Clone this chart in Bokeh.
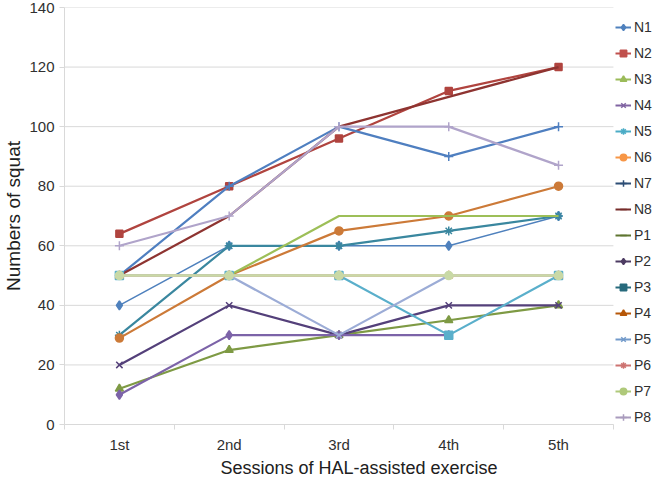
import math
from bokeh.plotting import figure
from bokeh.models import Range1d, FixedTicker, Legend, LegendItem, Title
from bokeh.embed import file_html
from bokeh.resources import INLINE

# ---------------- data ----------------
sessions = ["1st", "2nd", "3rd", "4th", "5th"]
y_ticks = [0, 20, 40, 60, 80, 100, 120, 140]

N1 = [40, 60, 60, 60, 70]
N2 = [64, 80, 96, 112, 120]
N3 = [12, 25, 30, 35, 40]
N4 = [20, 40, 30, 40, 40]
N5 = [30, 60, 60, 65, 70]
N6 = [29, 50, 65, 70, 80]
N7 = [50, 80, 100, 90, 100]
N8 = [50, 70, 100, 110, 120]
P1 = [50, 50, 70, 70, 70]
P2 = [10, 30, 30, 30, float("nan")]
P3 = [50, 50, 50, 30, 50]
P4 = [50, 50, 50, 50, 50]
P5 = [50, 50, 30, 50, 50]
P6 = [50, 50, 50, 50, 50]
P7 = [50, 50, 50, 50, 50]
P8 = [60, 70, 100, 100, 87]

series = [("N1", N1), ("N2", N2), ("N3", N3), ("N4", N4), ("N5", N5), ("N6", N6),
          ("N7", N7), ("N8", N8), ("P1", P1), ("P2", P2), ("P3", P3), ("P4", P4),
          ("P5", P5), ("P6", P6), ("P7", P7), ("P8", P8)]

# ---------------- styles ----------------
# name: (line colour in plot, legend colour, marker, marker size, line width)
styles = {
    "N1": ("#4F81BD", "#4F81BD", "diamond", 9, 1.5),
    "N2": ("#B0443F", "#C0504D", "square", 7, 2.2),
    "N3": ("#7E9A44", "#9BBB59", "triangle", 8, 2.2),
    "N4": ("#54407A", "#8064A2", "x", 9, 2.2),
    "N5": ("#3A879F", "#4BACC6", "asterisk", 9, 2.2),
    "N6": ("#CC7A38", "#F79646", "circle", 8, 2.2),
    "N7": ("#4F7FC0", "#2C4D75", "cross", 9, 2.2),
    "N8": ("#8E3431", "#772C2A", "dash", 8, 2.2),
    "P1": ("#9DBF58", "#5F7530", "dash", 8, 2.2),
    "P2": ("#7C63A8", "#4D3B62", "diamond", 9, 2.2),
    "P3": ("#5AAFCB", "#276A7C", "square", 8, 2.2),
    "P4": ("#D1A06C", "#B65708", "triangle", 8, 2.2),
    "P5": ("#9CACD6", "#729ACA", "x", 8, 2.2),
    "P6": ("#D8A9A5", "#CD7371", "asterisk", 8, 2.2),
    "P7": ("#C9D9A6", "#AFC97A", "circle", 8, 2.6),
    "P8": ("#B0A4CA", "#A99BBD", "cross", 9, 2.2),
}

FONT = "Liberation Sans"
GRID = "#D9D9D9"
W, H = 653, 477
FRAME_LEFT = 56          # approx. width of the left axis panel
FRAME_RIGHT = W - 9      # approx. right edge of the plot frame
PLOT_RIGHT = 604         # where the category area ends (figure px)

n = len(sessions)
x = [i + 0.5 for i in range(n)]
nan = float("nan")
# extend the x range to the right so the key fits inside the frame
x_end = n * (FRAME_RIGHT - FRAME_LEFT) / (PLOT_RIGHT - FRAME_LEFT)

p = figure(width=W, height=H, output_backend="svg", toolbar_location=None,
           x_range=Range1d(0, x_end), y_range=Range1d(0, 140),
           min_border_left=0, min_border_right=0, min_border_top=7,
           min_border_bottom=0)
p.outline_line_color = None
p.background_fill_color = "white"
p.border_fill_color = "white"

# horizontal gridlines limited to the category area
p.segment(x0=[0] * len(y_ticks), x1=[n] * len(y_ticks), y0=y_ticks, y1=y_ticks,
          line_color=GRID, line_width=1)

items = []
for name, vals in series:
    lc, gc, mk, ms, lw = styles[name]
    p.line(x=x, y=vals, line_color=lc, line_width=lw)
    if mk != "dash":
        p.scatter(x=x, y=vals, marker=mk, size=ms, line_color=lc, fill_color=lc,
                  line_width=1.5)
    # legend swatch renderers (key colours; no visible data)
    lr = p.line(x=[nan], y=[nan], line_color=gc, line_width=2)
    sr = p.scatter(x=[nan], y=[nan], marker=mk, size=ms - 1, line_color=gc,
                   fill_color=gc, line_width=1.5)
    items.append(LegendItem(label=name, renderers=[lr, sr]))

# y axis
p.yaxis.ticker = FixedTicker(ticks=y_ticks)
p.yaxis.axis_line_color = GRID
p.yaxis.major_tick_line_color = GRID
p.yaxis.major_tick_out = 5
p.yaxis.major_tick_in = 0
p.yaxis.minor_tick_line_color = None
p.yaxis.major_label_text_font = FONT
p.yaxis.major_label_text_font_size = "15px"
p.yaxis.major_label_text_color = "#303030"
p.yaxis.major_label_standoff = 5
p.yaxis.axis_label = "Numbers of squat"
p.yaxis.axis_label_text_font = FONT
p.yaxis.axis_label_text_font_size = "19px"
p.yaxis.axis_label_text_font_style = "normal"
p.yaxis.axis_label_text_color = "#202020"
p.yaxis.axis_label_standoff = 2

# x axis: labels at category centres, ticks at category boundaries
p.xaxis.bounds = (0, n)
p.xaxis.ticker = FixedTicker(ticks=x, minor_ticks=list(range(n + 1)))
p.xaxis.major_label_overrides = {xi: s for xi, s in zip(x, sessions)}
p.xaxis.axis_line_color = GRID
p.xaxis.major_tick_line_color = None
p.xaxis.major_tick_out = 0
p.xaxis.major_tick_in = 0
p.xaxis.minor_tick_line_color = GRID
p.xaxis.minor_tick_out = 5
p.xaxis.minor_tick_in = 0
p.xaxis.major_label_text_font = FONT
p.xaxis.major_label_text_font_size = "15px"
p.xaxis.major_label_text_color = "#303030"
p.xaxis.major_label_standoff = 6

xtitle = Title(text="Sessions of HAL-assisted exercise", align="center",
               text_font=FONT, text_font_size="18px", text_font_style="normal",
               text_color="#202020", standoff=0, offset=0)
p.add_layout(xtitle, "below")

p.xgrid.visible = False
p.ygrid.visible = False

legend = Legend(items=items, location=(551, -3), glyph_width=16, glyph_height=20,
                label_height=20, spacing=6, padding=0, margin=0, label_standoff=3,
                border_line_color=None, background_fill_alpha=0,
                label_text_font=FONT, label_text_font_size="14px",
                label_text_color="#303030")
p.add_layout(legend)

open("out.html", "w").write(file_html(p, INLINE))
